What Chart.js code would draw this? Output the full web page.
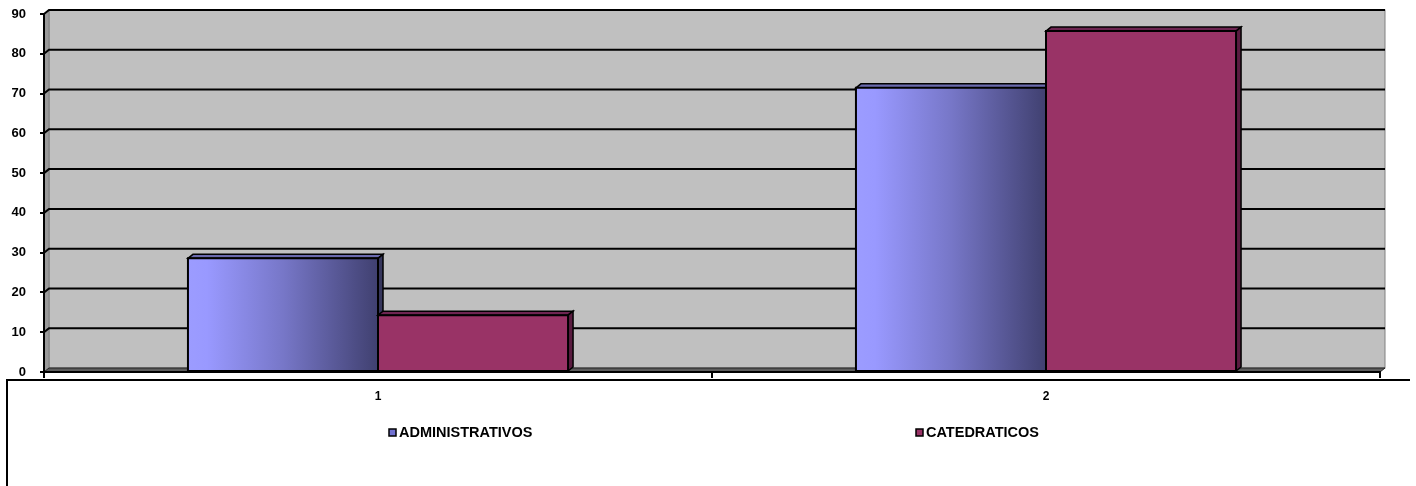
<!DOCTYPE html>
<html>
<head>
<meta charset="utf-8">
<title>Administrativos y catedráticos</title>
<script src="https://cdn.jsdelivr.net/npm/chart.js@4.4.1/dist/chart.umd.min.js"></script>
<style>
  html, body { margin: 0; padding: 0; background: #fff; }
  canvas { display: block; }
</style>
</head>
<body>
<canvas id="grafico" width="1416" height="486"></canvas>
<script>
const categorias = ['1', '2'];
const administrativos = [28.57, 71.43];
const catedraticos = [14.29, 85.71];
const ejeMin = 0;
const ejeMax = 90;
const ejePaso = 10;

// desplazamiento de la pared del fondo (efecto 3D)
const prof = { dx: 5, dy: 4 };

const caras = [
  { tapa: '#6a6aae', lado: '#36365c', marca: '#7070d0' },
  { tapa: '#6e2551', lado: '#5a1c40', marca: '#993366' }
];

function poligono(ctx, pts, relleno, trazo, grosor) {
  ctx.beginPath();
  ctx.moveTo(pts[0][0], pts[0][1]);
  for (let i = 1; i < pts.length; i++) ctx.lineTo(pts[i][0], pts[i][1]);
  ctx.closePath();
  if (relleno) { ctx.fillStyle = relleno; ctx.fill(); }
  if (trazo) { ctx.strokeStyle = trazo; ctx.lineWidth = grosor; ctx.stroke(); }
}

const escenario3D = {
  id: 'escenario3D',
  beforeDraw(chart) {
    const { ctx, chartArea: a, scales: { y } } = chart;
    const { dx, dy } = prof;
    ctx.save();
    // pared del fondo
    ctx.fillStyle = '#c0c0c0';
    ctx.fillRect(a.left + dx, a.top - dy, a.right - a.left, a.bottom - a.top);
    ctx.strokeStyle = '#808080';
    ctx.lineWidth = 1;
    ctx.strokeRect(a.left + dx, a.top - dy, a.right - a.left, a.bottom - a.top);
    // pared lateral
    poligono(ctx, [[a.left, a.top], [a.left + dx, a.top - dy], [a.left + dx, a.bottom - dy], [a.left, a.bottom]], '#9a9a9a', '#808080', 1);
    // piso
    poligono(ctx, [[a.left, a.bottom], [a.left + dx, a.bottom - dy], [a.right + dx, a.bottom - dy], [a.right, a.bottom]], '#5c5c5c', '#222', 1);
    // líneas de división
    ctx.strokeStyle = '#000';
    ctx.lineWidth = 2;
    y.ticks.forEach(t => {
      if (t.value === ejeMin) return;
      const py = y.getPixelForValue(t.value);
      ctx.beginPath();
      ctx.moveTo(a.left, py);
      ctx.lineTo(a.left + dx, py - dy);
      ctx.lineTo(a.right + dx, py - dy);
      ctx.stroke();
    });
    ctx.restore();
  },
  afterDatasetsDraw(chart) {
    const { ctx } = chart;
    const { dx, dy } = prof;
    ctx.save();
    chart.data.datasets.forEach((ds, i) => {
      const meta = chart.getDatasetMeta(i);
      meta.data.forEach(barra => {
        const { x, y, base, width } = barra.getProps(['x', 'y', 'base', 'width'], true);
        const l = x - width / 2, r = x + width / 2;
        let frente = ds.backgroundColor;
        if (i === 0) {
          frente = ctx.createLinearGradient(l, 0, r, 0);
          frente.addColorStop(0, '#9c9cff');
          frente.addColorStop(0.1, '#9999ff');
          frente.addColorStop(0.5, '#7777c8');
          frente.addColorStop(1, '#404070');
        }
        poligono(ctx, [[l, y], [l + dx, y - dy], [r + dx, y - dy], [r, y]], caras[i].tapa, '#000', 1.5);
        poligono(ctx, [[r, y], [r + dx, y - dy], [r + dx, base - dy], [r, base]], caras[i].lado, '#000', 1.5);
        poligono(ctx, [[l, y], [r, y], [r, base], [l, base]], frente, '#000', 2);
      });
    });
    ctx.restore();
  },
  afterDraw(chart) {
    const { ctx } = chart;
    ctx.save();
    // marco de la leyenda
    ctx.strokeStyle = '#000';
    ctx.lineWidth = 2;
    ctx.beginPath();
    ctx.moveTo(7, 486);
    ctx.lineTo(7, 380);
    ctx.lineTo(1410, 380);
    ctx.stroke();
    // entradas de la leyenda
    const posX = [389, 916];
    const posY = 433;
    ctx.font = 'bold 14.5px "Liberation Sans", Arial, sans-serif';
    ctx.textBaseline = 'middle';
    chart.data.datasets.forEach((ds, i) => {
      poligono(ctx, [[posX[i], posY - 4], [posX[i] + 7, posY - 4], [posX[i] + 7, posY + 3], [posX[i], posY + 3]], caras[i].marca, '#000', 1.5);
      ctx.fillStyle = '#000';
      ctx.fillText(ds.label, posX[i] + 10, posY);
    });
    ctx.restore();
  }
};

Chart.defaults.font.family = '"Liberation Sans", Arial, sans-serif';
Chart.defaults.font.weight = 'bold';
Chart.defaults.font.size = 13;
Chart.defaults.color = '#000';

new Chart(document.getElementById('grafico'), {
  type: 'bar',
  data: {
    labels: categorias,
    datasets: [
      { label: 'ADMINISTRATIVOS', data: administrativos, backgroundColor: '#9999ff', borderColor: '#000', borderWidth: 2 },
      { label: 'CATEDRATICOS', data: catedraticos, backgroundColor: '#993366', borderColor: '#000', borderWidth: 2 }
    ]
  },
  options: {
    responsive: false,
    devicePixelRatio: 1,
    animation: false,
    layout: { padding: { top: 14, right: 36, bottom: 0, left: 0 } },
    datasets: { bar: { categoryPercentage: 0.569, barPercentage: 1 } },
    plugins: { legend: { display: false }, tooltip: { enabled: false } },
    scales: {
      x: {
        grid: { offset: true, drawOnChartArea: false, tickLength: 6, color: '#000', lineWidth: 2 },
        border: { color: '#000', width: 2 },
        ticks: { padding: 11, font: { size: 12 } },
        afterFit: (s) => { s.height = 114; }
      },
      y: {
        min: ejeMin,
        max: ejeMax,
        ticks: { stepSize: ejePaso, padding: 14 },
        grid: { drawOnChartArea: false, tickLength: 4, color: '#000', lineWidth: 2 },
        border: { color: '#000', width: 2 },
        afterFit: (s) => { s.width = 44; s.paddingTop = 0; s.paddingBottom = 0; }
      }
    }
  },
  plugins: [escenario3D]
});
</script>
</body>
</html>
